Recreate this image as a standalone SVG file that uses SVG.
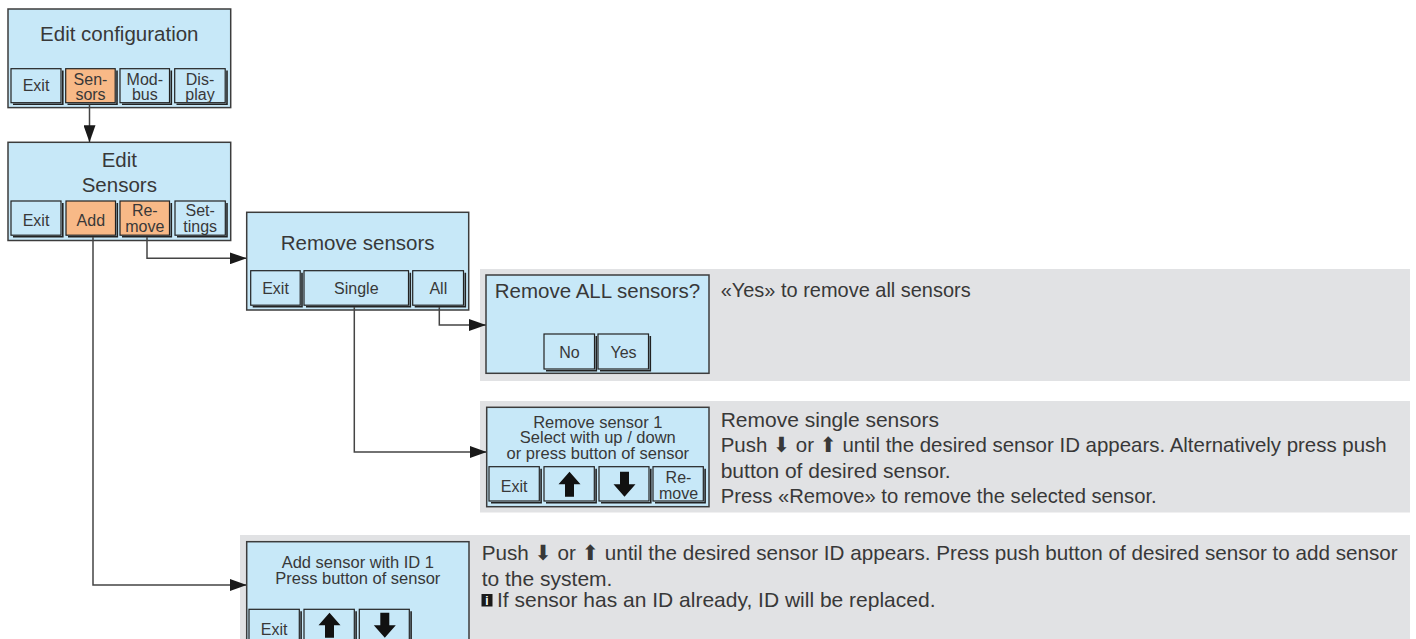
<svg xmlns="http://www.w3.org/2000/svg" width="1416" height="639" viewBox="0 0 1416 639">
<style>
.box{fill:#c7e8f8;stroke:#3c3c3c;stroke-width:1.5}
.btn{fill:#c7e8f8;stroke:#222;stroke-width:1.2}
.on{fill:#f8b987}
.sh{fill:none;stroke:#222;stroke-width:1.6}
.panel{fill:#e1e2e4}
.t{font-family:"Liberation Sans",Arial,sans-serif;fill:#383838}
.title{font-size:20.5px;text-anchor:middle}
.bl{font-size:16px;text-anchor:middle}
.sm{font-size:16.5px;text-anchor:middle}
.desc{font-size:21px}
.ar{font-family:"DejaVu Sans",sans-serif}
.conn{fill:none;stroke:#444;stroke-width:1.5}
.icon{fill:#111}
</style>
<defs>
<marker id="ah" markerUnits="userSpaceOnUse" markerWidth="17" markerHeight="12" refX="17" refY="6" orient="auto">
<path d="M0,0 L17,6 L0,12 Z" fill="#1a1a1a"/>
</marker>
<path id="up" d="M0,0 L11,12.5 L4.5,12.5 L4.5,25 L-4.5,25 L-4.5,12.5 L-11,12.5 Z"/>
<path id="down" d="M0,25 L11,12.5 L4.5,12.5 L4.5,0 L-4.5,0 L-4.5,12.5 L-11,12.5 Z"/>
</defs>

<g id="n-edit-config">
<rect class="box" x="8" y="9" width="222.7" height="98.6"/>
<text class="t title" x="119.3" y="40.6">Edit configuration</text>
<rect class="btn" x="11" y="68.7" width="50" height="34"/><polyline class="sh" points="13,104.3 62.8,104.3 62.8,70.5"/>
<text class="t bl" x="36" y="91">Exit</text>
<rect class="btn on" x="65.7" y="68.7" width="49.5" height="34"/><polyline class="sh" points="67.5,104.3 117,104.3 117,70.5"/>
<text class="t bl" x="90.5" y="84.5">Sen-</text><text class="t bl" x="90.5" y="100">sors</text>
<rect class="btn" x="120" y="68.7" width="49.5" height="34"/><polyline class="sh" points="122,104.3 171.3,104.3 171.3,70.5"/>
<text class="t bl" x="144.8" y="84.5">Mod-</text><text class="t bl" x="144.8" y="100">bus</text>
<rect class="btn" x="174.7" y="68.7" width="50.5" height="34"/><polyline class="sh" points="176.5,104.3 227,104.3 227,70.5"/>
<text class="t bl" x="200" y="84.5">Dis-</text><text class="t bl" x="200" y="100">play</text>
</g>

<g id="n-edit-sensors">
<rect class="box" x="8" y="142.3" width="222.7" height="98.2"/>
<text class="t title" x="119.3" y="167">Edit</text>
<text class="t title" x="119.3" y="192">Sensors</text>
<rect class="btn" x="11" y="201" width="50" height="34.2"/><polyline class="sh" points="13,236.8 62.8,236.8 62.8,203"/>
<text class="t bl" x="36" y="225.5">Exit</text>
<rect class="btn on" x="66" y="201" width="49.5" height="34.2"/><polyline class="sh" points="68,236.8 117.3,236.8 117.3,203"/>
<text class="t bl" x="90.8" y="225.5">Add</text>
<rect class="btn on" x="120" y="201" width="49.5" height="34.2"/><polyline class="sh" points="122,236.8 171.3,236.8 171.3,203"/>
<text class="t bl" x="144.8" y="216">Re-</text><text class="t bl" x="144.8" y="232">move</text>
<rect class="btn" x="175" y="201" width="50.3" height="34.2"/><polyline class="sh" points="177,236.8 227,236.8 227,203"/>
<text class="t bl" x="200.2" y="216">Set-</text><text class="t bl" x="200.2" y="232">tings</text>
</g>

<g id="n-remove-sensors">
<rect class="box" x="246.7" y="212.3" width="222" height="97.7"/>
<text class="t title" x="357.7" y="249.5">Remove sensors</text>
<rect class="btn" x="250.7" y="270.7" width="49.5" height="34.5"/><polyline class="sh" points="252.7,306.8 302,306.8 302,272.7"/>
<text class="t bl" x="275.5" y="294">Exit</text>
<rect class="btn" x="304" y="270.7" width="104.5" height="34.5"/><polyline class="sh" points="306,306.8 410.3,306.8 410.3,272.7"/>
<text class="t bl" x="356.3" y="294">Single</text>
<rect class="btn" x="412.7" y="270.7" width="50.8" height="34.5"/><polyline class="sh" points="414.7,306.8 465.3,306.8 465.3,272.7"/>
<text class="t bl" x="438.3" y="294">All</text>
</g>

<g id="n-remove-all">
<rect class="panel" x="480" y="269" width="930" height="112"/>
<rect class="box" x="486" y="275" width="223" height="98.3"/>
<text class="t title" x="597.5" y="297.5">Remove ALL sensors?</text>
<rect class="btn" x="544" y="334" width="50.5" height="35"/><polyline class="sh" points="546,370.8 596.3,370.8 596.3,336"/>
<text class="t bl" x="569.5" y="357.5">No</text>
<rect class="btn" x="598" y="334" width="50.5" height="35"/><polyline class="sh" points="600,370.8 650.3,370.8 650.3,336"/>
<text class="t bl" x="623.5" y="357.5">Yes</text>
<text class="t desc" x="720.7" y="297" textLength="250" lengthAdjust="spacingAndGlyphs">«Yes» to remove all sensors</text>
</g>

<g id="n-remove-single">
<rect class="panel" x="480" y="401" width="930" height="111.5"/>
<rect class="box" x="486.7" y="407.3" width="222.3" height="99.4"/>
<text class="t sm" x="597.8" y="427.5">Remove sensor 1</text>
<text class="t sm" x="597.8" y="443">Select with up / down</text>
<text class="t sm" x="597.8" y="458.5">or press button of sensor</text>
<rect class="btn" x="489" y="466.7" width="50.3" height="34.3"/><polyline class="sh" points="491,502.8 541.1,502.8 541.1,468.7"/>
<text class="t bl" x="514.2" y="492.4">Exit</text>
<rect class="btn" x="544" y="466.7" width="50.3" height="34.3"/><polyline class="sh" points="546,502.8 596.1,502.8 596.1,468.7"/>
<use href="#up" class="icon" x="569.5" y="471.7"/>
<rect class="btn" x="599" y="466.7" width="50" height="34.3"/><polyline class="sh" points="601,502.8 650.8,502.8 650.8,468.7"/>
<use href="#down" class="icon" x="624.5" y="471.7"/>
<rect class="btn" x="653" y="466.7" width="50.3" height="34.3"/><polyline class="sh" points="655,502.8 705.1,502.8 705.1,468.7"/>
<text class="t bl" x="678.5" y="483">Re-</text><text class="t bl" x="678.5" y="498.5">move</text>
<text class="t desc" x="720.7" y="427">Remove single sensors</text>
<text class="t desc" x="720.7" y="452" textLength="666" lengthAdjust="spacingAndGlyphs">Push <tspan class="ar">⬇</tspan> or <tspan class="ar">⬆</tspan> until the desired sensor ID appears. Alternatively press push</text>
<text class="t desc" x="720.7" y="477.5">button of desired sensor.</text>
<text class="t desc" x="720.7" y="503" textLength="436" lengthAdjust="spacingAndGlyphs">Press «Remove» to remove the selected sensor.</text>
</g>

<g id="n-add-sensor">
<rect class="panel" x="240" y="535" width="1170" height="110"/>
<rect class="box" x="246.7" y="541.7" width="222.3" height="103"/>
<text class="t sm" x="357.8" y="568">Add sensor with ID 1</text>
<text class="t sm" x="357.8" y="584">Press button of sensor</text>
<rect class="btn" x="249" y="609.3" width="50.3" height="34.3"/><polyline class="sh" points="251,645.4 301.1,645.4 301.1,611.3"/>
<text class="t bl" x="274.2" y="635">Exit</text>
<rect class="btn" x="304" y="609.3" width="50.3" height="34.3"/><polyline class="sh" points="306,645.4 356.1,645.4 356.1,611.3"/>
<use href="#up" class="icon" x="329.5" y="612.7"/>
<rect class="btn" x="359.3" y="609.3" width="50" height="34.3"/><polyline class="sh" points="361.3,645.4 411.1,645.4 411.1,611.3"/>
<use href="#down" class="icon" x="384.8" y="612.7"/>
<text class="t desc" x="481.7" y="560" textLength="916" lengthAdjust="spacingAndGlyphs">Push <tspan class="ar">⬇</tspan> or <tspan class="ar">⬆</tspan> until the desired sensor ID appears. Press push button of desired sensor to add sensor</text>
<text class="t desc" x="481.7" y="585.5">to the system.</text>
<rect x="481.5" y="594" width="11" height="12.5" fill="#1a1a1a"/>
<text x="487" y="605" font-family="Liberation Sans,Arial,sans-serif" font-size="12" font-weight="bold" fill="#ffffff" text-anchor="middle">i</text>
<text class="t desc" x="497" y="607">If sensor has an ID already, ID will be replaced.</text>
</g>

<g id="connectors">
<path class="conn" d="M89.5,104.5 V142.3" marker-end="url(#ah)"/>
<path class="conn" d="M147,237 V258.3 H246.7" marker-end="url(#ah)"/>
<path class="conn" d="M93,237 V585 H246.7" marker-end="url(#ah)"/>
<path class="conn" d="M439.3,307 V325 H486" marker-end="url(#ah)"/>
<path class="conn" d="M354.3,307 V452 H486.7" marker-end="url(#ah)"/>
</g>
</svg>
